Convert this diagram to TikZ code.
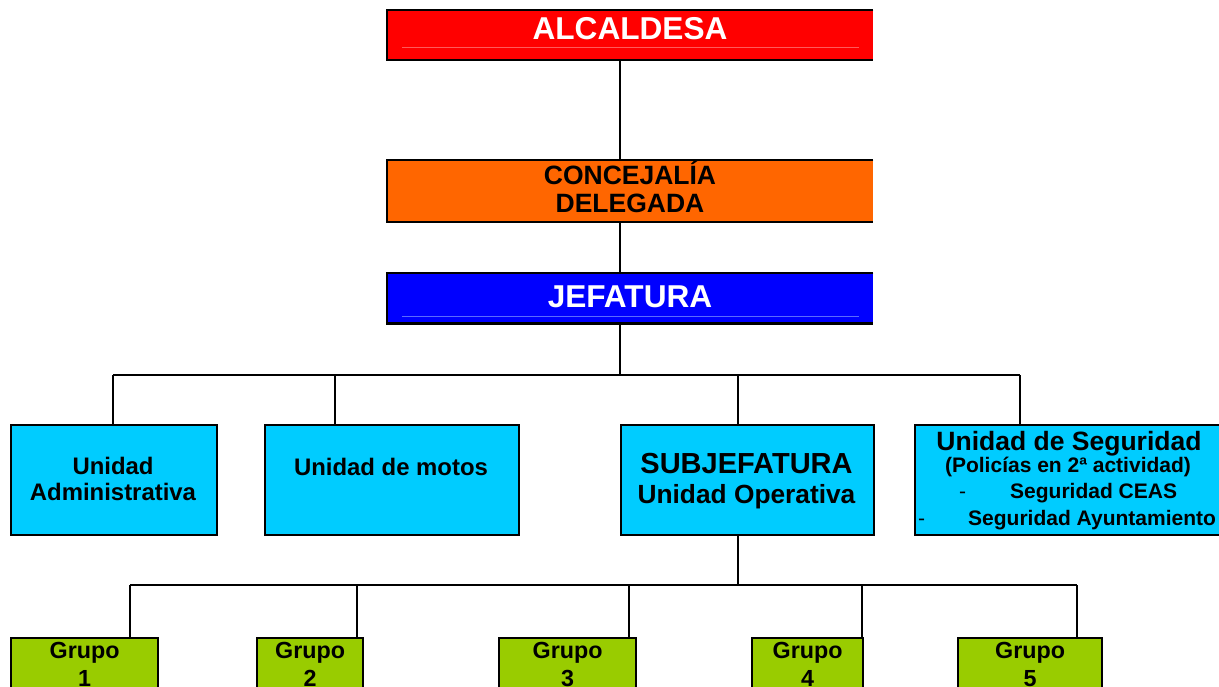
\documentclass[tikz,border=0pt]{standalone}
\usepackage{fontspec}
\setmainfont{Liberation Sans}
\definecolor{cRed}{HTML}{FF0000}
\definecolor{cRedLight}{HTML}{FF5A5A}
\definecolor{cOrange}{HTML}{FF6600}
\definecolor{cBlue}{HTML}{0000FF}
\definecolor{cBlueLight}{HTML}{5A6AFF}
\definecolor{cCyan}{HTML}{00CCFF}
\definecolor{cGreen}{HTML}{99CC00}
\begin{document}
\begin{tikzpicture}[x=1pt,y=-1pt,
  topbox/.style={draw=none, inner sep=0pt, anchor=north west},
  unitbox/.style={draw=black, line width=2.2pt, fill=cCyan, inner sep=0pt, anchor=north west},
  grpbox/.style={draw=black, line width=2.2pt, fill=cGreen, inner sep=0pt, anchor=north west},
  edge/.style={draw=black, line width=2.2pt},
  txt/.style={inner sep=0pt, anchor=base},
  fA/.style={font=\bfseries\fontsize{31.6}{36}\selectfont},
  fC/.style={font=\bfseries\fontsize{26.5}{30}\selectfont},
  fU/.style={font=\bfseries\fontsize{23.9}{27}\selectfont},
  fS/.style={font=\bfseries\fontsize{29}{33}\selectfont},
  fO/.style={font=\bfseries\fontsize{26.3}{30}\selectfont},
  fP/.style={font=\bfseries\fontsize{21}{24}\selectfont},
  fD/.style={font=\fontsize{21}{24}\selectfont},
  fG/.style={font=\bfseries\fontsize{23.3}{27}\selectfont}]
\useasboundingbox (0,0) rectangle (1219,687);
\clip (0,0) rectangle (1219,687);

% ---- top boxes ----
\node[topbox, fill=cRed, minimum width=486pt, minimum height=50pt] (alc) at (387,10) {};
\node[topbox, fill=cOrange, minimum width=486pt, minimum height=62pt] (conc) at (387,160) {};
\node[topbox, fill=cBlue, minimum width=486pt, minimum height=50pt] (jef) at (387,273) {};
\foreach \b in {alc,conc,jef}
  \draw[edge] (\b.north east) -- (\b.north west) -- (\b.south west) -- (\b.south east);
\draw[cRedLight, line width=0.6pt] (402,47) -- (859,47);
\draw[cBlueLight, line width=0.6pt] (402,316) -- (859,316);

\node[txt, fA, text=white] (talc) at (630,40) {ALCALDESA};
\node[txt, fC] (tconc1) at (630,185) {CONCEJALÍA};
\node[txt, fC] (tconc2) at (630,213) {DELEGADA};
\node[txt, fA, text=white] (tjef) at (630,308) {JEFATURA};

% ---- level 2 boxes ----
\node[unitbox, minimum width=206pt, minimum height=110pt] (adm) at (10,424) {};
\node[unitbox, minimum width=254pt, minimum height=110pt] (mot) at (264,424) {};
\node[unitbox, minimum width=253pt, minimum height=110pt] (sub) at (620,424) {};
\node[unitbox, minimum width=310pt, minimum height=110pt] (seg) at (914,424) {};

\node[txt, fU] (tadm1) at (113,474) {Unidad};
\node[txt, fU] (tadm2) at (113,500) {Administrativa};
\node[txt, fU] (tmot) at (391,475) {Unidad de motos};
\node[txt, fS] (tsub1) at (746.5,473) {SUBJEFATURA};
\node[txt, fO] (tsub2) at (746.5,503) {Unidad Operativa};
\node[txt, font=\bfseries\fontsize{26.5}{30}\selectfont] (tseg1) at (1069,450) {Unidad de Seguridad};
\node[txt, fP] (tseg2) at (1068,472) {(Policías en 2ª actividad)};
\node[txt, fD, anchor=base west] (dash1) at (959,498) {-};
\node[txt, fP, anchor=base west] (tseg3) at (1010,498) {Seguridad CEAS};
\node[txt, fD, anchor=base west] (dash2) at (918,525) {-};
\node[txt, fP, anchor=base west] (tseg4) at (968,525) {Seguridad Ayuntamiento};

% ---- groups ----
\node[grpbox, minimum width=147pt, minimum height=70pt] (g1) at (10,637) {};
\node[grpbox, minimum width=106pt, minimum height=70pt] (g2) at (256,637) {};
\node[grpbox, minimum width=137pt, minimum height=70pt] (g3) at (498,637) {};
\node[grpbox, minimum width=111pt, minimum height=70pt] (g4) at (751,637) {};
\node[grpbox, minimum width=144pt, minimum height=70pt] (g5) at (957,637) {};
\foreach \g/\n in {g1/1,g2/2,g3/3,g4/4,g5/5}{
  \node[txt, fG] (t\g a) at ([yshift=-21pt]\g.north) {Grupo};
  \node[txt, fG] (t\g b) at ([yshift=-49pt]\g.north) {\n};
}

% ---- connectors ----
\coordinate (spine) at (620,0);
\coordinate (bus1) at (620,375);
\draw[edge] (alc.south -| spine) -- (conc.north -| spine);
\draw[edge] (conc.south -| spine) -- (jef.north -| spine);
\draw[edge] (jef.south -| spine) -- (bus1);
\coordinate (b1a) at (113,375);
\coordinate (b1b) at (335,375);
\coordinate (b1c) at (738,375);
\coordinate (b1d) at (1020,375);
\draw[edge] (b1a) -- (b1d);
\draw[edge] (b1a) -- (b1a |- adm.north);
\draw[edge] (b1b) -- (b1b |- mot.north);
\draw[edge] (b1c) -- (b1c |- sub.north);
\draw[edge] (b1d) -- (b1d |- seg.north);

\coordinate (bus2) at (738,585);
\draw[edge] (sub.south -| bus2) -- (bus2);
\coordinate (d1) at (130,585);
\coordinate (d2) at (357,585);
\coordinate (d3) at (629,585);
\coordinate (d4) at (862,585);
\coordinate (d5) at (1077,585);
\draw[edge] (d1) -- (d5);
\draw[edge] (d1) -- (d1 |- g1.north);
\draw[edge] (d2) -- (d2 |- g2.north);
\draw[edge, line width=2.8pt] (d3) -- (d3 |- g3.north);
\draw[edge] (d4) -- (d4 |- g4.north);
\draw[edge] (d5) -- (d5 |- g5.north);
\end{tikzpicture}
\end{document}
